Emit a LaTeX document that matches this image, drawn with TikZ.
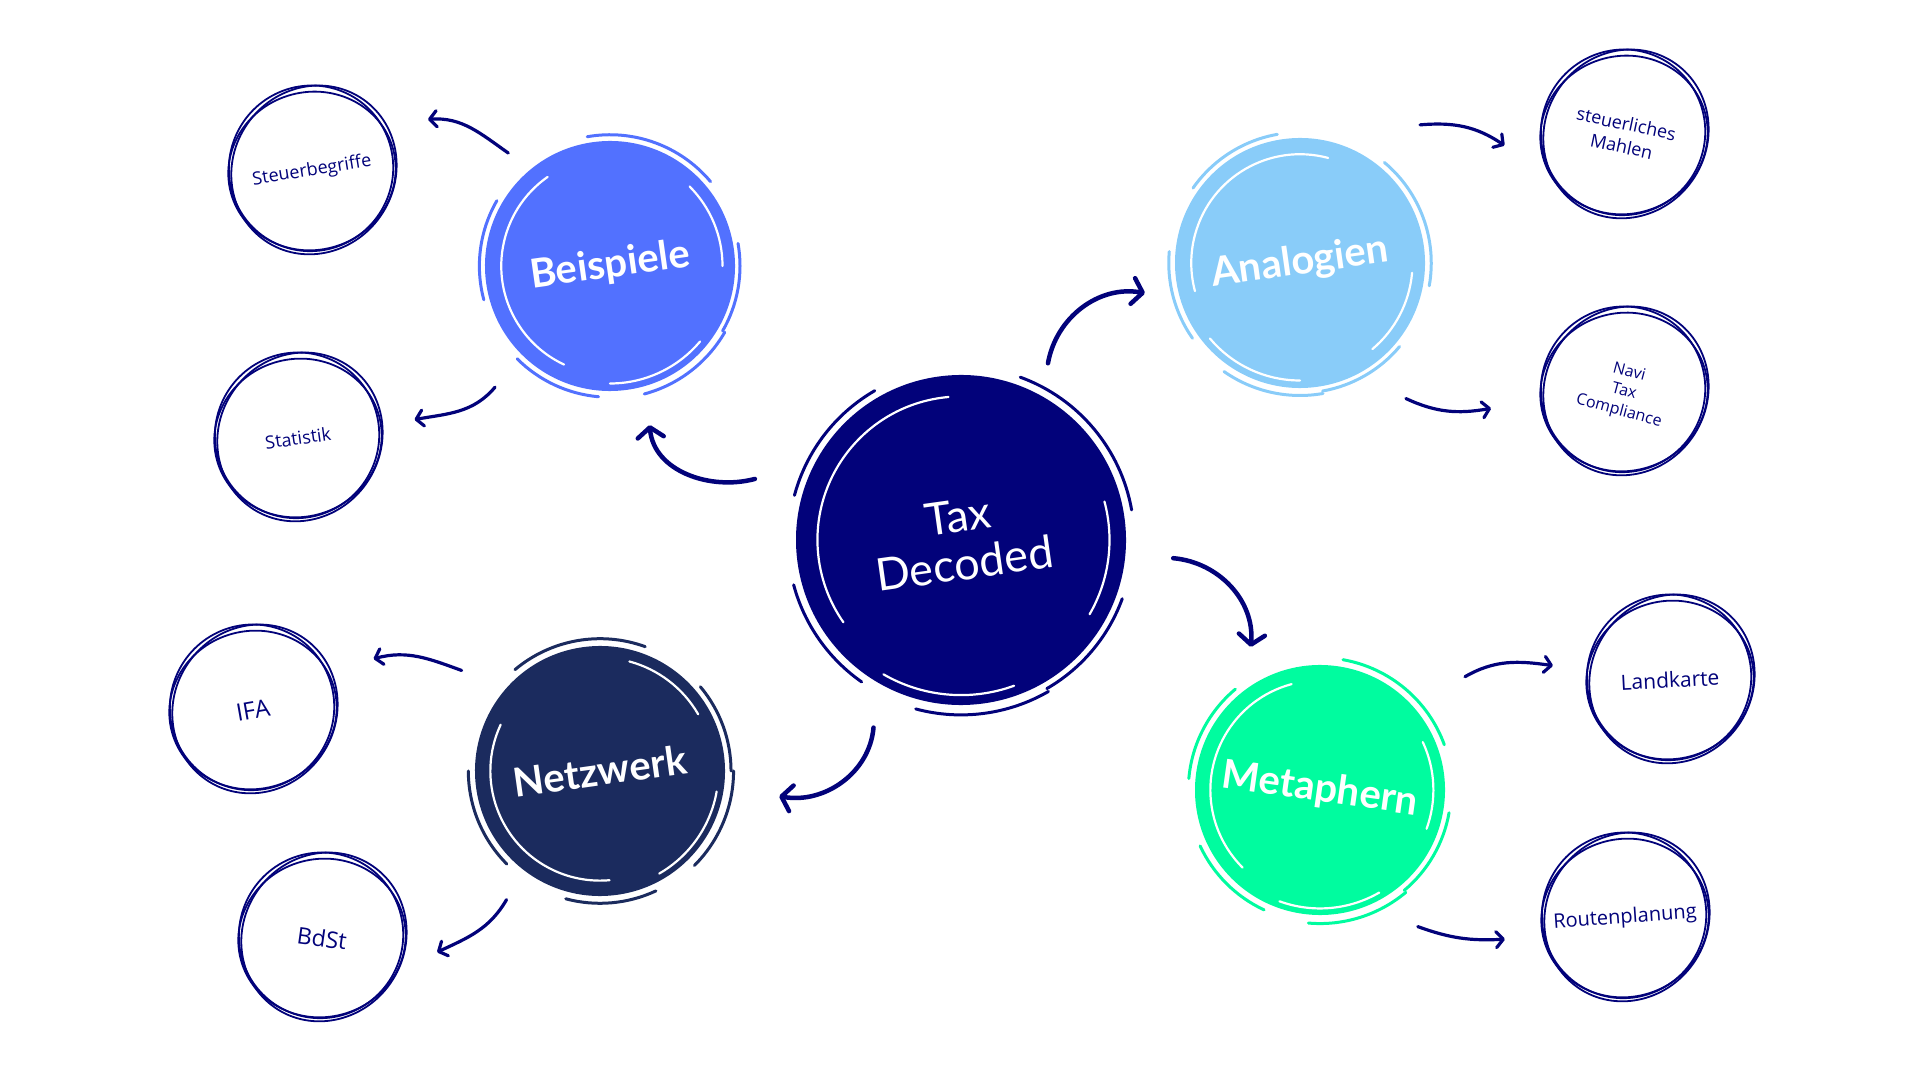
\documentclass[tikz,border=0pt]{standalone}
\usepackage{fontspec}
\usetikzlibrary{arrows.meta,calc}

\newfontfamily\latofont{Lato}
\newfontfamily\handfont{Open Sans}

\definecolor{taxnavy}{RGB}{2,2,122}
\definecolor{bspblue}{RGB}{82,113,255}
\definecolor{anablue}{RGB}{137,204,249}
\definecolor{netzblue}{RGB}{27,43,94}
\definecolor{metagreen}{RGB}{0,252,159}

% brush strokes round a filled bubble: name, radius, colour, turn
\newcommand{\brushring}[4]{%
  \foreach \a/\b/\f in {95/215/0.87, 330/375/0.90, 240/290/0.94}
    {\draw[white, line width=2.2pt, line cap=round] ($(#1)+({\a+#4}:{\f*#2})$) arc[start angle={\a+#4}, end angle={\b+#4}, radius={\f*#2}];}
  \foreach \a/\b/\f in {10/70/1.05, 300/340/1.04, 120/165/1.045, 195/235/1.05, 255/300/1.06}
    {\draw[#3, line width=3pt, line cap=round] ($(#1)+({\a+#4}:{\f*#2})$) arc[start angle={\a+#4}, end angle={\b+#4}, radius={\f*#2}];}
}

% hand drawn ring round a small idea
\newcommand{\sketchring}[1]{%
  \foreach \rx/\ry/\t/\dx/\dy in {84/79/15/0/0, 86/81/55/2/-1, 82/83/-25/-2/2}
    {\draw[taxnavy, line width=1.8pt, rotate around={\t:(#1)}] ($(#1)+(\dx,\dy)$) ellipse[x radius=\rx, y radius=\ry];}
}

\begin{document}
\begin{tikzpicture}[x=1pt, y=1pt,
    bubble/.style={circle, inner sep=0pt, minimum size=250, text=white,
      font=\latofont\bfseries\fontsize{40}{44}\selectfont},
    idea/.style={circle, inner sep=0pt, minimum size=166, text=taxnavy, align=center},
    arr/.style={taxnavy, line width=4.5pt, line cap=round,
      -{Straight Barb[length=10pt,width=26pt,round]}},
    twig/.style={taxnavy, line width=3.2pt, line cap=round,
      -{Straight Barb[length=7pt,width=16pt,round]}}]
  \useasboundingbox (0,0) rectangle (1920,1080);

  % centre
  \node[circle, fill=taxnavy, minimum size=330, inner sep=0pt, text=white, align=center,
    rotate=8, font=\latofont\fontsize{45}{48}\selectfont] (tax) at (961,540) {Tax\\Decoded};
  \brushring{tax}{165}{taxnavy}{0}

  % four branches
  \node[bubble, fill=bspblue, rotate=8] (bsp) at (610,814) {Beispiele};
  \brushring{bsp}{125}{bspblue}{30}
  \node[bubble, fill=anablue, rotate=8] (ana) at (1300,817) {Analogien};
  \brushring{ana}{125}{anablue}{-20}
  \node[bubble, fill=netzblue, rotate=8] (netz) at (600,309) {Netzwerk};
  \brushring{netz}{126}{netzblue}{60}
  \node[bubble, fill=metagreen, rotate=-8] (meta) at (1320,290) {Metaphern};
  \brushring{meta}{126}{metagreen}{10}

  % small ideas
  \node[idea, rotate=9, font=\handfont\fontsize{18}{20}\selectfont] (steuer) at (312,909) {Steuerbegriffe};
  \node[idea, rotate=8, font=\handfont\fontsize{18}{20}\selectfont] (stat) at (298,642) {Statistik};
  \node[idea, rotate=10, font=\handfont\fontsize{24}{26}\selectfont] (ifa) at (253,370) {IFA};
  \node[idea, rotate=-8, font=\handfont\fontsize{23}{25}\selectfont] (bdst) at (322,142) {BdSt};
  \node[idea, rotate=-12, font=\handfont\fontsize{18}{23}\selectfont] (mahlen) at (1624,945) {steuerliches\\Mahlen};
  \node[idea, rotate=-15, font=\handfont\fontsize{16}{20}\selectfont] (navi) at (1624,688) {Navi\\Tax\\Compliance};
  \node[idea, rotate=3, font=\handfont\fontsize{21}{23}\selectfont] (land) at (1670,400) {Landkarte};
  \node[idea, rotate=4, font=\handfont\fontsize{20}{22}\selectfont] (route) at (1625,162) {Routenplanung};
  \foreach \n in {steuer, stat, ifa, bdst, mahlen, navi, land, route}
    {\sketchring{\n}}

  % arrows from the centre
  \draw[arr] ($(tax)+(163.5:215)$) to[out=195, in=275] ($(bsp)+(-76:164)$);
  \draw[arr] ($(tax)+(63.8:197)$) to[out=80, in=170] ($(ana)+(191:158)$);
  \draw[arr] ($(tax)+(-4.9:213)$) to[out=-5, in=85] ($(meta)+(115.8:159)$);
  \draw[arr] ($(tax)+(245:207)$) to[out=-95, in=-10] ($(netz)+(-8:181)$);

  % arrows to the small ideas
  \draw[twig] ($(bsp)+(132:152)$) to[out=145, in=4] ($(steuer)+(24:127)$);
  \draw[twig] ($(bsp)+(226.5:167)$) to[out=230, in=10] ($(stat)+(9:118)$);
  \draw[twig] ($(ana)+(49:183)$) to[out=5, in=146] ($(mahlen)+(185:120)$);
  \draw[twig] ($(ana)+(-52:172)$) to[out=-25, in=190] ($(navi)+(187:134)$);
  \draw[twig] ($(netz)+(144:171)$) to[out=160, in=15] ($(ifa)+(23:131)$);
  \draw[twig] ($(netz)+(234:159)$) to[out=-120, in=25] ($(bdst)+(-7:116)$);
  \draw[twig] ($(meta)+(38:184)$) to[out=30, in=172] ($(land)+(173:118)$);
  \draw[twig] ($(meta)+(-54.4:168)$) to[out=-20, in=183] ($(route)+(190:122)$);
\end{tikzpicture}
\end{document}
